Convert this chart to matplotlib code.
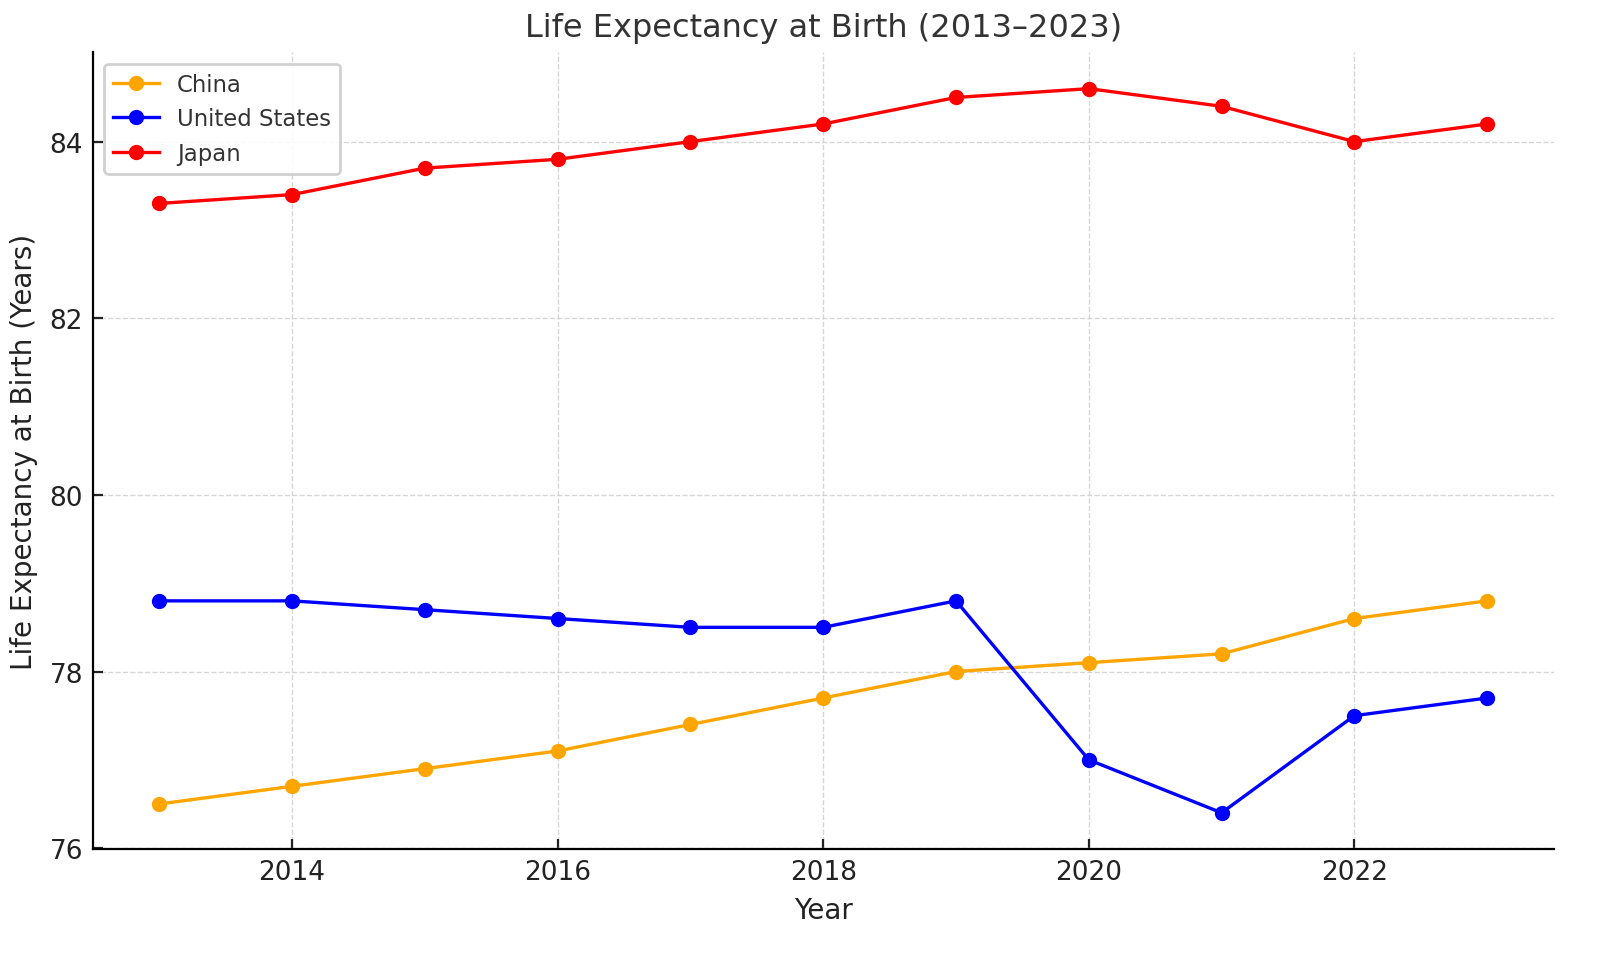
import matplotlib
matplotlib.use("Agg")
import matplotlib.pyplot as plt

# data
years = [2013, 2014, 2015, 2016, 2017, 2018, 2019, 2020, 2021, 2022, 2023]
china = [76.5, 76.7, 76.9, 77.1, 77.4, 77.7, 78.0, 78.1, 78.2, 78.6, 78.8]
usa = [78.8, 78.8, 78.7, 78.6, 78.5, 78.5, 78.8, 77.0, 76.4, 77.5, 77.7]
japan = [83.3, 83.4, 83.7, 83.8, 84.0, 84.2, 84.5, 84.6, 84.4, 84.0, 84.2]

fig = plt.figure(figsize=(8, 4.77), dpi=200)
ax = fig.add_axes([0.058, 0.109, 0.913, 0.835])

ax.plot(years, china, marker='o', color='orange', label='China', linewidth=1.2, markersize=4.5)
ax.plot(years, usa, marker='o', color='blue', label='United States', linewidth=1.2, markersize=4.5)
ax.plot(years, japan, marker='o', color='red', label='Japan', linewidth=1.2, markersize=4.5)

ax.set_title('Life Expectancy at Birth (2013–2023)', fontsize=11.5, color='#333333')
ax.set_xlabel('Year', fontsize=10, color='#222222')
ax.set_ylabel('Life Expectancy at Birth (Years)', fontsize=10, color='#222222')

ax.set_yticks([76, 78, 80, 82, 84])
ax.set_xticks([2014, 2016, 2018, 2020, 2022])
ax.tick_params(direction='in', labelsize=9.5, colors='#222222')
ax.grid(True, linestyle='--', color='#cccccc', linewidth=0.5, alpha=0.8)
for s in ['top', 'right']:
    ax.spines[s].set_visible(False)

leg = ax.legend(loc='upper left', fontsize=8.2, framealpha=0.9, edgecolor='#cccccc')
for t in leg.get_texts():
    t.set_color('#333333')

fig.savefig('out.png', dpi=200)
